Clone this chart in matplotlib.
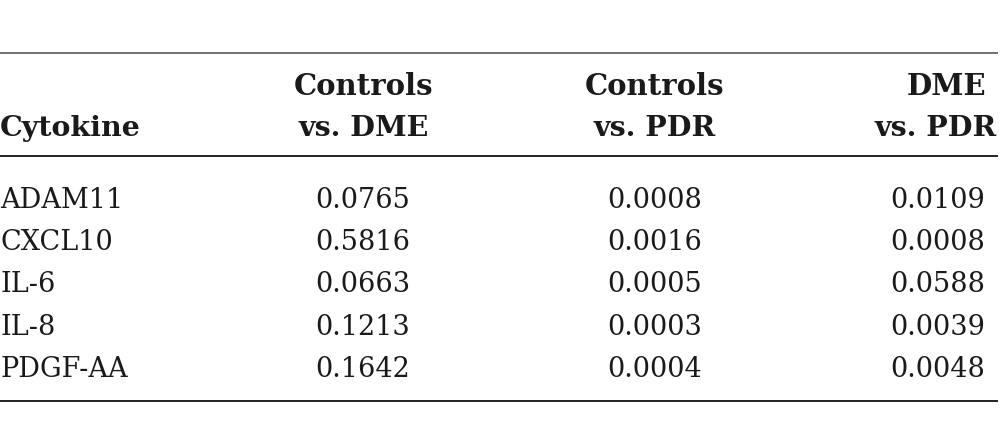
import matplotlib.pyplot as plt

# Table content
header_top = ['', 'Controls', 'Controls', 'DME']
header_bottom = ['Cytokine', 'vs. DME', 'vs. PDR', 'vs. PDR']
cytokines = ['ADAM11', 'CXCL10', 'IL-6', 'IL-8', 'PDGF-AA']
ctrl_vs_dme = ['0.0765', '0.5816', '0.0663', '0.1213', '0.1642']
ctrl_vs_pdr = ['0.0008', '0.0016', '0.0005', '0.0003', '0.0004']
dme_vs_pdr = ['0.0109', '0.0008', '0.0588', '0.0039', '0.0048']

fig = plt.figure(figsize=(10, 4.46), dpi=100)
ax = fig.add_axes([0, 0, 1, 1])
ax.set_xlim(0, 1000)
ax.set_ylim(446, 0)
ax.axis('off')

font = 'DejaVu Serif'
top_x = [0, 364, 655, 947]
bot_x = [0, 364, 655, 936]
txt = '#1a1a1a'

# rules
ax.plot([0, 998], [53, 53], color='#666666', lw=1.3, solid_capstyle='butt')
ax.plot([0, 998], [156, 156], color='#222222', lw=1.4, solid_capstyle='butt')
ax.plot([0, 998], [401, 401], color='#222222', lw=1.4, solid_capstyle='butt')

# header
for i in range(4):
    ha = 'left' if i == 0 else 'center'
    if header_top[i]:
        ax.text(top_x[i], 95, header_top[i], ha=ha, va='baseline',
                fontsize=21, fontweight='bold', family=font, color=txt)
    ax.text(bot_x[i], 136, header_bottom[i], ha=ha, va='baseline',
            fontsize=20.5, fontweight='bold', family=font, color=txt)

# body
row_y0 = 208
row_step = 42.25
for r, name in enumerate(cytokines):
    y = row_y0 + r * row_step
    ax.text(0, y, name, ha='left', va='baseline', fontsize=19.5,
            family=font, color=txt)
    ax.text(363, y, ctrl_vs_dme[r], ha='center', va='baseline', fontsize=19.5,
            family=font, color=txt)
    ax.text(655, y, ctrl_vs_pdr[r], ha='center', va='baseline', fontsize=19.5,
            family=font, color=txt)
    ax.text(938, y, dme_vs_pdr[r], ha='center', va='baseline', fontsize=19.5,
            family=font, color=txt)

fig.savefig('out.png', dpi=100)
